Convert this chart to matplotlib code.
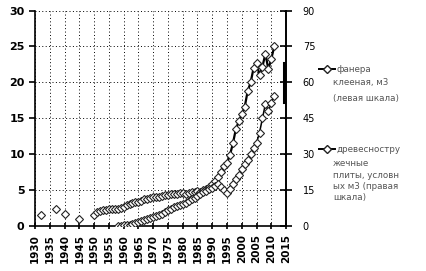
import numpy as np
import matplotlib.pyplot as plt
from matplotlib.lines import Line2D

# фанера клееная, млн м3 (левая шкала)
years_ply = [1932, 1937, 1940, 1945,
             1950, 1951, 1952, 1953, 1954, 1955, 1956, 1957, 1958, 1959,
             1960, 1961, 1962, 1963, 1964, 1965, 1966, 1967, 1968, 1969,
             1970, 1971, 1972, 1973, 1974, 1975, 1976, 1977, 1978, 1979,
             1980, 1981, 1982, 1983, 1984, 1985, 1986, 1987, 1988, 1989,
             1990, 1991, 1992, 1993, 1994, 1995, 1996, 1997, 1998, 1999,
             2000, 2001, 2002, 2003, 2004, 2005, 2006, 2007, 2008, 2009,
             2010, 2011]
plywood = [1.5, 2.3, 1.7, 1.0,
           1.6, 1.9, 2.1, 2.2, 2.2, 2.3, 2.3, 2.3, 2.3, 2.5,
           2.7, 2.9, 3.1, 3.2, 3.3, 3.4, 3.5, 3.7, 3.8, 3.9,
           4.0, 4.1, 4.1, 4.2, 4.3, 4.3, 4.4, 4.5, 4.5, 4.6,
           4.6, 4.5, 4.6, 4.7, 4.8, 4.9, 4.8, 5.0, 5.2, 5.5,
           5.8, 6.2, 6.8, 7.5, 8.3, 8.8, 9.9, 11.5, 13.5, 14.6,
           15.6, 16.6, 18.8, 20.0, 22.0, 22.7, 21.0, 22.2, 24.0, 21.8,
           23.3, 25.0]

# древесностружечные плиты, условных м3 (правая шкала)
years_pb = [1958, 1959, 1960, 1961, 1962, 1963, 1964, 1965, 1966, 1967,
            1968, 1969, 1970, 1971, 1972, 1973, 1974, 1975, 1976, 1977,
            1978, 1979, 1980, 1981, 1982, 1983, 1984, 1985, 1986, 1987,
            1988, 1989, 1990, 1991, 1992, 1993, 1994, 1995, 1996, 1997,
            1998, 1999, 2000, 2001, 2002, 2003, 2004, 2005, 2006, 2007,
            2008, 2009, 2010, 2011]
particleboard = [0.0, 0.1, 0.3, 0.5, 0.6, 0.9, 1.2, 1.5, 2.0, 2.4,
                 2.9, 3.4, 3.7, 4.2, 4.6, 5.2, 5.8, 6.5, 7.0, 7.8,
                 8.2, 8.8, 9.3, 9.8, 10.5, 11.1, 11.8, 12.6, 13.4, 14.2,
                 14.8, 15.4, 16.0, 16.8, 17.6, 16.2, 15.0, 13.8, 15.5, 17.4,
                 19.5, 21.5, 24.0, 25.8, 27.6, 30.0, 32.5, 34.8, 39.0, 45.0,
                 51.0, 48.0, 51.5, 54.4]

x_ticks = list(range(1930, 2016, 5))

plt.rcParams['font.family'] = ['DejaVu Sans']

fig = plt.figure(figsize=(4.27, 2.71), dpi=100)
ax = fig.add_axes([0.082, 0.166, 0.588, 0.795])
ax2 = ax.twinx()

# ранние точки стоят отдельно (пропуски между годами)
full_years = np.arange(1930, 2012)
ply_full = np.full(len(full_years), np.nan)
for yr, v in zip(years_ply, plywood):
    ply_full[yr - 1930] = v

mk = dict(marker='D', markersize=3.6, markerfacecolor='white',
          markeredgecolor='#222222', markeredgewidth=0.8)
ax.plot(full_years, ply_full, color='black', linewidth=1.6, zorder=3, **mk)
ax2.plot(years_pb, particleboard, color='black', linewidth=1.1, zorder=3, **mk)

ax.set_xlim(1930, 2015)
ax.set_ylim(0, 30)
ax2.set_ylim(0, 90)
ax.set_xticks(x_ticks)
ax.set_xticklabels([str(y) for y in x_ticks], rotation=90)
ax.set_yticks(range(0, 31, 5))
ax2.set_yticks(range(0, 91, 15))

ax.grid(True, color='black', linestyle=(0, (1, 2.5)), linewidth=0.7)

for a in (ax, ax2):
    a.spines['top'].set_visible(False)
    a.spines['left'].set_linewidth(1.2)
    a.spines['right'].set_linewidth(1.2)
    a.spines['bottom'].set_linewidth(1.2)
ax2.spines['left'].set_visible(False)
ax2.spines['bottom'].set_visible(False)

ax.tick_params(axis='y', direction='out', length=4, width=1.2, labelsize=8)
ax.tick_params(axis='x', direction='inout', length=5, width=1.2, labelsize=7.5)
ax2.tick_params(axis='y', direction='inout', length=8, width=1.2, labelsize=7,
                pad=8, colors='black')
for lab in ax.get_xticklabels() + ax.get_yticklabels():
    lab.set_fontweight('bold')

# тёмная полоса у правой оси (как на скане)
ax.axvline(2014.4, ymin=0.577, ymax=0.758, color='black', linewidth=2.2)

# легенда
for yy in (0.745, 0.450):
    fig.add_artist(Line2D([0.748, 0.766, 0.785], [yy, yy, yy], color='black',
                          linewidth=1.4, marker='D', markersize=3.6, markevery=[1],
                          markerfacecolor='white', markeredgecolor='#222222'))
tcol = '#555555'
fs = 6.3
fig.text(0.788, 0.745, 'фанера', fontsize=fs, color=tcol, va='center')
fig.text(0.780, 0.697, 'клееная, м3', fontsize=fs, color=tcol, va='center')
fig.text(0.780, 0.635, '(левая шкала)', fontsize=fs, color=tcol, va='center')
fig.text(0.788, 0.450, 'древесностру', fontsize=fs, color=tcol, va='center')
fig.text(0.780, 0.398, 'жечные', fontsize=fs, color=tcol, va='center')
fig.text(0.780, 0.354, 'плиты, условн', fontsize=fs, color=tcol, va='center')
fig.text(0.780, 0.313, 'ых м3 (правая', fontsize=fs, color=tcol, va='center')
fig.text(0.780, 0.273, 'шкала)', fontsize=fs, color=tcol, va='center')

fig.savefig('out.png', dpi=100)
